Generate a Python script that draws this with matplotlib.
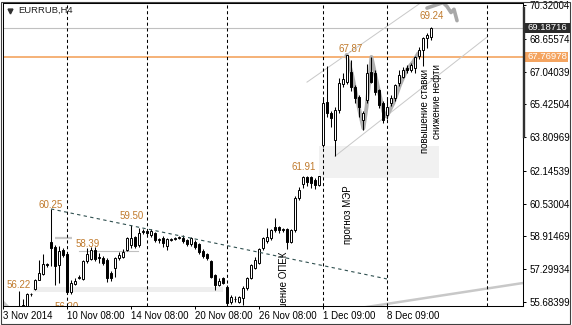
import matplotlib
matplotlib.use("Agg")
import matplotlib.pyplot as plt
import matplotlib.transforms as mtransforms
from matplotlib.patches import Rectangle, Polygon
from matplotlib.lines import Line2D

plt.rcParams['font.family'] = ['Liberation Sans', 'DejaVu Sans']

W, H, DPI = 572, 325, 100

# ---------------- data (EURRUB, H4) ----------------
opens = [55.50, 55.45, 55.45, 56.08, 56.33, 56.77, 57.06, 57.55, 58.66, 58.37,
         57.50, 58.25, 58.07, 56.17, 56.55, 56.85, 56.80, 57.70, 57.80, 58.25,
         57.90, 57.86, 57.75, 57.10, 57.34, 57.83, 57.92, 58.25, 58.50, 58.87,
         58.49, 59.12, 59.20, 59.00, 59.07, 58.75, 58.85, 58.44, 58.75, 58.80,
         58.83, 58.85, 58.72, 58.52, 58.63, 58.52, 58.21, 58.03, 57.70, 57.02,
         56.50, 56.85, 56.40, 55.70, 55.85, 55.70, 55.87, 56.36, 56.85, 57.34,
         57.62, 58.33, 58.70, 58.83, 59.40, 59.37, 59.25, 59.27, 58.66, 59.23,
         60.80, 61.50, 61.85, 61.85, 61.70, 61.45, 63.40, 65.56, 64.98, 63.67,
         65.15, 66.43, 66.55, 67.00, 66.29, 65.80, 64.65, 65.64, 67.03, 66.95,
         66.13, 65.47, 64.90, 65.47, 65.72, 66.46, 66.79, 67.20, 67.12, 67.20,
         67.80, 68.10, 68.70, 68.76]
highs = [56.22, 55.85, 56.12, 56.15, 56.80, 57.75, 58.03, 57.62, 60.25, 58.50,
         58.45, 58.35, 58.10, 56.75, 56.85, 57.00, 57.75, 58.34, 58.39, 58.39,
         58.10, 57.95, 57.85, 57.20, 57.90, 58.16, 58.30, 58.90, 59.50, 58.95,
         59.32, 59.30, 59.30, 59.30, 59.15, 58.85, 58.95, 58.85, 58.85, 58.90,
         58.95, 58.98, 58.80, 58.90, 58.75, 58.60, 58.30, 58.10, 57.75, 57.05,
         56.85, 56.90, 56.50, 56.05, 56.00, 56.00, 56.45, 56.90, 57.55, 57.92,
         58.35, 58.90, 59.32, 59.30, 59.81, 59.45, 59.33, 59.35, 59.30, 60.90,
         61.37, 61.91, 61.90, 61.90, 61.80, 61.90, 65.70, 67.30, 65.10, 65.30,
         66.70, 66.95, 67.87, 67.60, 66.40, 65.90, 65.10, 67.40, 67.77, 67.10,
         66.20, 65.60, 65.80, 65.90, 66.45, 67.12, 67.25, 67.35, 67.45, 67.80,
         68.25, 68.75, 68.95, 69.24]
lows = [55.30, 55.30, 55.40, 56.00, 56.30, 56.75, 57.00, 57.40, 57.45, 56.52,
        56.60, 57.90, 56.15, 56.10, 56.50, 56.80, 56.75, 57.60, 57.75, 57.70,
        57.60, 57.50, 56.66, 56.70, 56.93, 57.75, 57.85, 58.20, 58.35, 58.35,
        58.40, 59.05, 59.00, 58.90, 58.65, 58.60, 58.40, 58.25, 58.70, 58.72,
        58.78, 58.60, 58.45, 58.45, 58.30, 58.05, 57.85, 57.75, 56.85, 56.27,
        56.45, 56.55, 55.50, 55.60, 55.70, 55.65, 55.55, 56.30, 56.80, 57.30,
        57.55, 58.25, 58.60, 58.75, 59.15, 59.10, 59.15, 58.28, 58.60, 59.15,
        60.70, 61.30, 61.40, 61.30, 61.25, 61.40, 63.30, 64.82, 64.30, 62.87,
        65.00, 66.30, 66.45, 66.10, 65.50, 64.82, 64.16, 65.50, 66.50, 65.90,
        65.23, 64.50, 64.70, 65.35, 65.60, 66.35, 66.70, 66.95, 67.00, 66.95,
        67.65, 67.30, 68.20, 68.60]
closes = [55.40, 55.55, 56.10, 56.10, 56.77, 57.10, 57.54, 57.50, 58.33, 57.47,
          58.20, 58.00, 56.20, 56.60, 56.70, 56.90, 57.70, 58.07, 58.25, 57.80,
          57.85, 57.60, 56.86, 56.85, 57.83, 58.00, 58.16, 58.83, 58.85, 58.44,
          59.07, 59.17, 59.10, 59.20, 58.75, 58.80, 58.57, 58.77, 58.80, 58.82,
          58.87, 58.69, 58.52, 58.83, 58.41, 58.16, 57.96, 57.83, 56.93, 56.50,
          56.74, 56.60, 55.62, 55.95, 55.82, 55.95, 56.36, 56.85, 57.51, 57.75,
          58.29, 58.83, 58.88, 59.23, 59.23, 59.23, 59.28, 58.66, 59.23, 60.80,
          61.20, 61.85, 61.60, 61.55, 61.45, 61.88, 65.50, 64.98, 64.74, 65.15,
          66.46, 66.66, 67.85, 66.30, 65.72, 65.31, 64.98, 66.95, 66.54, 66.05,
          65.39, 64.65, 65.30, 65.72, 66.38, 66.87, 67.12, 67.10, 67.36, 67.75,
          68.10, 68.68, 68.85, 69.19]

ytick_values = [70.32004, 68.65574, 67.04039, 65.42504, 63.80969,
                62.14539, 60.53004, 58.91469, 57.29934, 55.68399]
xtick_pos = [-4, 12, 28, 44, 60, 76, 92]
xtick_labels = ["3 Nov 2014", "10 Nov 08:00", "14 Nov 08:00", "20 Nov 08:00",
                "26 Nov 08:00", "1 Dec 09:00", "8 Dec 09:00"]
separators = [12, 32, 52, 76, 92, 117]
bid_price = 69.18716
level_price = 67.76978

# price marks: (text, bar index, value)
mark_text = ["60.25", "59.50", "58.39", "56.22", "56.20", "61.91", "67.87", "69.24"]
mark_x = [7.9, 28.1, 17.25, 0.0, 11.8, 71.2, 82.95, 103.1]
mark_y = [60.44, 59.92, 58.54, 56.50, 55.46, 62.35, 68.17, 69.79]

# news notes (vertical)
note_text = ["прогноз МЭР", "повышение ставки", "снижение нефти"]
note_x = [82.25, 101.4, 104.5]
note_y = [59.99, 65.09, 65.54]
opec_text = "решение ОПЕК"

# trend / channel lines (bar index, price)
trend_x = [8, 92]
trend_y = [60.27, 56.82]
chan_up_x = [72, 100.75]
chan_up_y = [66.52, 70.47]
chan_lo_x = [79, 117]
chan_lo_y = [62.87, 68.74]
path_x = [81.9, 83.2, 84.4, 85.25, 86.1, 86.9, 87.75, 88.1, 89, 90, 91.1, 91.9,
          93.6, 95.25, 96.9, 98.6, 99.8]
path_y = [67.86, 66.95, 65.80, 64.99, 64.24, 65.31, 66.95, 67.76, 66.95, 66.05,
          65.06, 64.82, 65.48, 66.38, 67.12, 67.53, 67.94]
proj_x = [102, 106, 107, 108, 108.75, 109.5]
proj_y = [70.17, 70.44, 70.25, 69.95, 70.11, 69.55]
base_x = [85, 126]
base_y = [55.38, 56.62]

# ---------------- figure ----------------
fig = plt.figure(figsize=(W / DPI, H / DPI), dpi=DPI)
fig.patch.set_facecolor('white')
ax = fig.add_axes([3 / W, (H - 306) / H, 520 / W, 303 / H])
ax.set_xlim(-4, 126)
ax.set_ylim(55.487, 70.419)

# gap zones
ax.add_patch(Rectangle((3.5, 56.19), 47.4, 0.25, fc='#eeeeee', ec='none', zorder=0.5))
ax.add_patch(Rectangle((75.1, 61.81), 29.9, 1.58, fc='#f1f1f1', ec='none', zorder=0.5))

# horizontal levels
ax.axhline(bid_price, color='#c0c0c0', lw=0.8, zorder=1)
ax.axhline(level_price, color='#f4a460', lw=1.2, zorder=1)
ax.plot([9, 13.25], [58.85, 58.85], color='#c8c8c8', lw=1.6, zorder=1, solid_capstyle='butt')
ax.plot([15, 29.75], [58.20, 58.20], color='#c0c0c0', lw=0.8, zorder=1)

# separators
for s in separators:
    ax.axvline(s, color='black', lw=0.75, ls=(0, (3, 2.5)), zorder=1.5)

# channel lines
ax.plot(chan_up_x, chan_up_y, color='#c8c8c8', lw=0.7, zorder=1.2)
ax.plot(chan_lo_x, chan_lo_y, color='#c8c8c8', lw=0.7, zorder=1.2)
ax.plot(base_x, base_y, color='#c8c8c8', lw=1.8, zorder=1.2)

# gray projection path (behind candles)
ax.plot(path_x, path_y, color='#b0b0b0', lw=2.8, zorder=1.8,
        solid_joinstyle='round', solid_capstyle='round')
ax.plot(proj_x, proj_y, color='#a8a8a8', lw=2.6, zorder=1.8,
        solid_joinstyle='round', solid_capstyle='round')

# candles
xs = list(range(len(opens)))
ax.vlines(xs, lows, highs, color='black', lw=0.75, zorder=2)
for x, o, c in zip(xs, opens, closes):
    lo, hi = min(o, c), max(o, c)
    h = max(hi - lo, 0.02)
    fc = 'white' if c >= o else 'black'
    ax.add_patch(Rectangle((x - 0.3, lo), 0.6, h, fc=fc, ec='black', lw=0.7, zorder=3))

# trend line
ax.plot(trend_x, trend_y, color='#2f4f4f', lw=0.8, ls=(0, (3, 3)), zorder=3.6)

# price marks
for t, x, y in zip(mark_text, mark_x, mark_y):
    ax.text(x, y, t, ha='center', va='center', fontsize=7, color='#c07a2c',
            zorder=5, clip_on=True)

# news notes
for t, x, y in zip(note_text, note_x, note_y):
    ax.text(x, y, t, rotation=90, ha='center', va='center', fontsize=7,
            color='black', zorder=5)
ax.text(66.2, 58.15, opec_text, rotation=90, ha='center', va='top', fontsize=7,
        color='black', zorder=5, clip_on=True)

# axes styling
for sp in ax.spines.values():
    sp.set_color('black')
    sp.set_linewidth(0.75)
ax.yaxis.tick_right()
ax.set_yticks(ytick_values)
ax.set_yticklabels([f"{v:.5f}" for v in ytick_values])
ax.set_xticks(xtick_pos)
ax.set_xticklabels(xtick_labels)
for lab in ax.get_xticklabels():
    lab.set_ha('left')
ax.tick_params(axis='both', direction='out', length=2.2, width=0.72,
               labelsize=7, colors='black')
ax.tick_params(axis='y', pad=2.2)
ax.tick_params(axis='x', pad=1.5)

# title with triangle
ax.text((18 - 3) / 520, (306 - 10.5) / 303, "EURRUB,H4", transform=ax.transAxes,
        ha='left', va='center', fontsize=6.8, color='#202020')
ax.plot([(9.5 - 3) / 520], [(306 - 10.5) / 303], marker='v', ms=3.5,
        color='#303030', transform=ax.transAxes, clip_on=False)

# small gray corner triangle
ax.add_patch(Polygon([[-4, 55.80], [-4, 55.487], [-2.5, 55.487]], closed=True,
                     fc='#c8c8c8', ec='none', zorder=1))

# outer frame
fig.add_artist(Rectangle((1 / W, 1 / H), 569 / W, 322 / H, transform=fig.transFigure,
                         fill=False, ec='#404040', lw=0.8, zorder=1))

# right-axis price boxes
ident = mtransforms.IdentityTransform()
for price, fc, x1 in [(bid_price, '#2b2b2b', 570), (level_price, '#f4a460', 568)]:
    ypix = ax.transData.transform((0, price))[1]
    fig.add_artist(Rectangle((524.5, ypix - 5), x1 - 524.5, 10, transform=ident,
                             fc=fc, ec='none', zorder=5))
    fig.text(528 / W, ypix / H, f"{price:.5f}", ha='left', va='center',
             fontsize=6.8, color='white', zorder=6)

# dark scale bar on right axis
fig.add_artist(Line2D([523.6 / W, 523.6 / W], [1 - 8.3 / H, 1 - 137 / H],
                      color='#303030', lw=1.7, zorder=5))

fig.savefig("out.png", dpi=DPI, facecolor='white')
